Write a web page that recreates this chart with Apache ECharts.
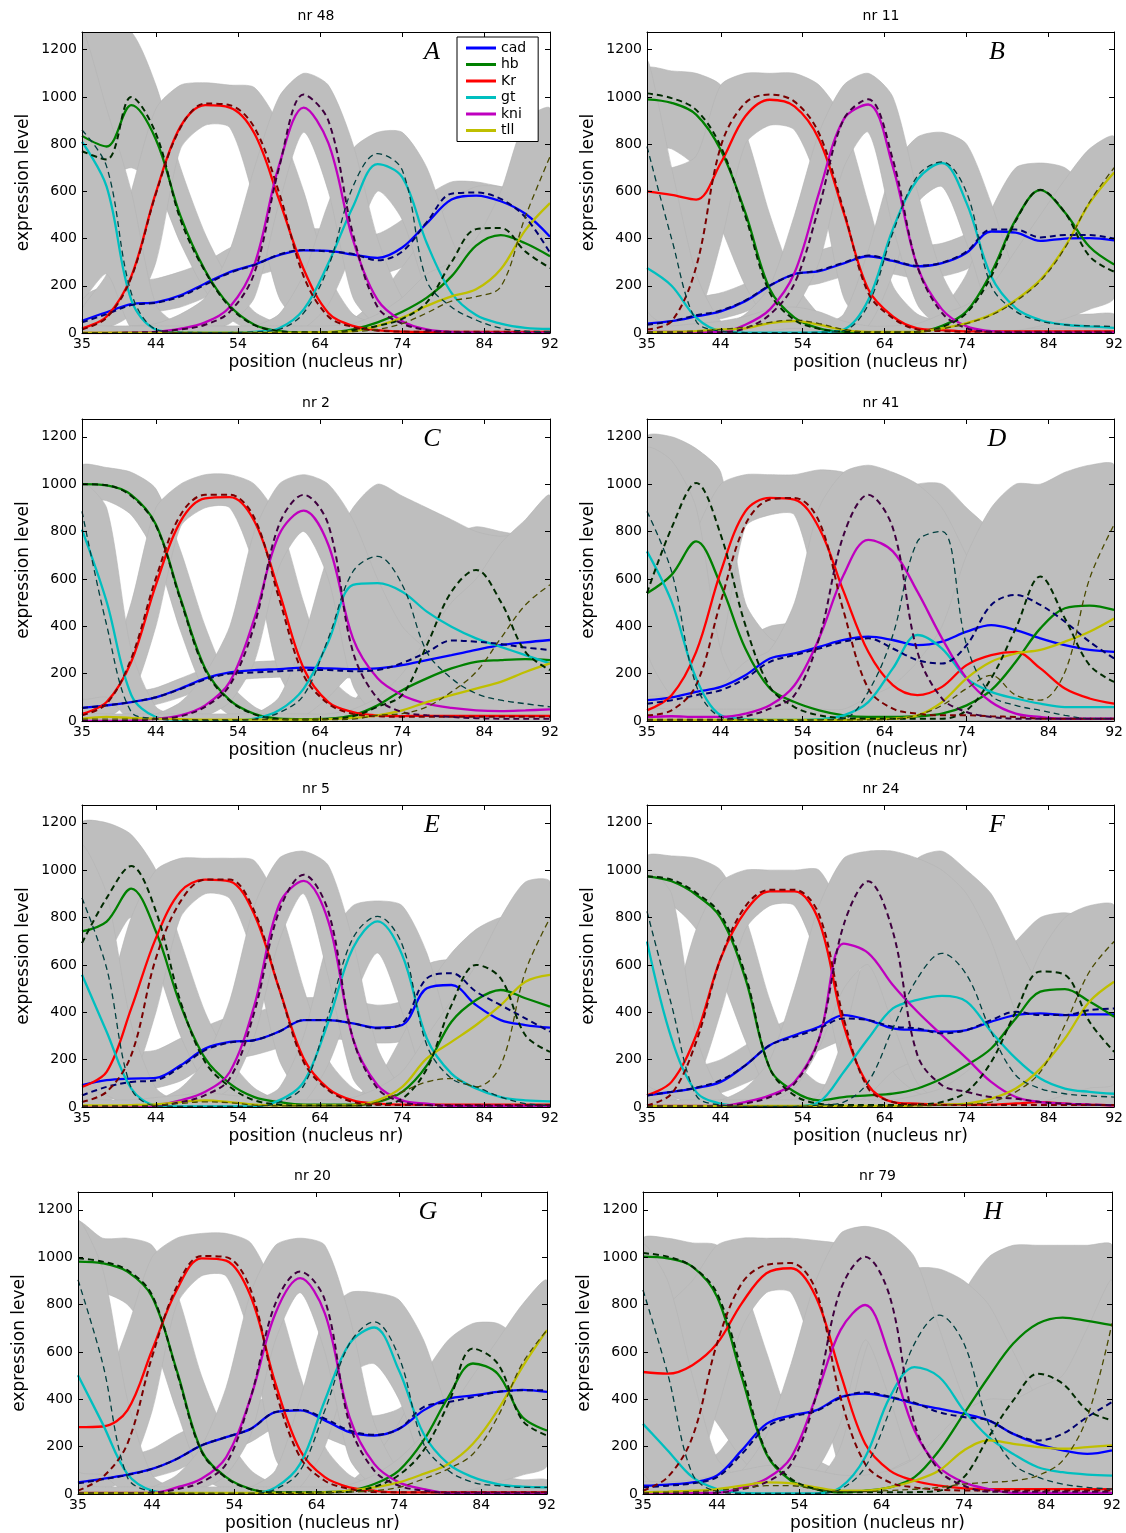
<!DOCTYPE html>
<html><head><meta charset="utf-8">
<script src="https://cdn.jsdelivr.net/npm/echarts@6/dist/echarts.min.js"></script>
<style>html,body{margin:0;padding:0;background:#fff}#c{width:1126px;height:1533px}</style>
</head><body><div id="c"></div>
<script>
const X = [35,38,41,44,47,50,53,56,59,62,65,68,71,74,77,80,83,86,89,92];
const X_TICK_LABELS = [35,44,54,64,74,84,92];
const X_TICKS = [44,54,64,74,84];
const Y_TICK_LABELS = [0,200,400,600,800,1000,1200];
const Y_TICKS = [200,400,600,800,1000,1200];
const GENES = ['cad','hb','Kr','gt','kni','tll'];

// ---- Panel A (nr 48) ----
const A_cad   = [52,88,122,130,160,210,258,290,330,350,348,332,318,362,465,565,582,558,505,408];
const A_cad_m = [45,80,118,128,155,205,255,288,332,352,345,335,308,345,470,590,595,568,490,340];
const A_hb    = [835,790,965,820,495,265,115,35,8,3,3,15,45,90,150,240,370,415,380,325];
const A_hb_m  = [770,735,1000,845,480,260,110,33,8,3,3,12,30,60,130,300,440,445,345,275];
const A_Kr    = [20,70,240,595,875,965,955,845,565,270,85,30,12,6,5,5,5,5,5,5];
const A_Kr_m  = [15,65,235,590,870,972,965,870,595,240,70,25,10,6,5,5,5,5,5,5];
const A_gt    = [810,620,140,15,3,2,2,5,20,100,295,535,715,660,380,170,76,40,22,17];
const A_gt_m  = [860,705,170,15,3,2,2,5,15,85,280,620,760,690,220,110,55,20,8,5];
const A_kni   = [0,0,2,5,18,45,110,290,710,955,805,395,140,50,15,5,2,0,0,0];
const A_kni_m = [0,0,2,5,15,35,90,255,700,1010,900,420,110,40,12,4,1,0,0,0];
const A_tll   = [2,2,2,2,2,2,2,2,2,3,5,8,30,65,115,155,185,270,436,550];
const A_tll_m = [1,1,1,1,1,1,1,1,1,2,3,6,15,40,85,135,154,196,493,747];
const A_cad_lo = [20,50,80,90,110,150,200,240,270,290,290,270,250,280,380,450,450,420,330,250];
const A_cad_hi = [150,200,220,230,260,300,360,400,420,440,440,420,420,480,580,640,640,620,600,550];
const A_hb_lo  = [620,650,700,620,380,180,60,5,0,0,0,0,0,10,40,100,200,250,200,150];
const A_hb_hi  = [1275,1275,1275,1050,700,420,220,90,40,20,30,60,150,280,420,560,620,620,580,560];
const A_Kr_lo  = [0,20,80,300,780,880,870,560,150,30,5,0,0,0,0,0,0,0,0,0];
const A_Kr_hi  = [100,250,600,950,1050,1060,1050,1040,880,600,250,80,40,30,30,30,30,30,30,30];
const A_gt_lo  = [150,250,20,0,0,0,0,0,0,20,120,350,600,480,180,50,10,0,0,0];
const A_gt_hi  = [1275,950,600,120,30,20,20,30,80,250,550,780,850,850,700,400,180,100,80,80];
const A_kni_lo = [0,0,0,0,0,10,40,150,550,850,600,150,30,5,0,0,0,0,0,0];
const A_kni_hi = [20,20,30,40,80,150,350,700,1000,1100,1050,800,400,150,60,30,20,20,20,20];
const A_tll_lo = [0,0,0,0,0,0,0,0,0,0,0,0,0,0,0,0,0,0,0,0];
const A_tll_hi = [30,30,30,30,30,30,30,30,30,30,30,40,80,150,250,300,400,600,900,950];

// ---- Panel B (nr 11) ----
const B_cad   = [40,50,70,92,135,200,250,262,295,325,305,282,296,340,430,425,390,400,402,392];
const B_cad_m = [35,50,75,95,138,202,248,265,298,328,308,285,298,345,438,438,405,415,415,400];
const B_hb    = [990,975,925,775,510,185,65,20,5,3,3,5,30,92,255,480,605,510,365,290];
const B_hb_m  = [1015,995,945,790,495,170,55,18,5,3,3,5,25,85,240,475,607,510,325,260];
const B_Kr    = [600,585,565,720,918,988,960,820,510,185,70,20,12,7,7,7,7,7,7,7];
const B_Kr_m  = [15,50,280,790,975,1010,980,845,520,170,63,15,8,5,5,5,5,5,5,5];
const B_gt    = [275,200,65,8,2,2,2,3,15,140,440,650,720,550,240,105,55,35,28,22];
const B_gt_m  = [790,400,50,8,2,2,2,3,10,120,425,665,725,595,200,92,50,35,30,28];
const B_kni   = [5,5,5,5,35,100,255,595,905,968,705,282,100,28,8,2,2,2,2,2];
const B_kni_m = [3,3,3,3,20,78,210,535,905,990,735,282,85,20,5,2,2,2,2,2];
const B_tll   = [3,5,8,15,20,42,50,35,12,5,5,5,20,42,78,140,225,365,550,680];
const B_tll_m = [3,5,8,15,25,45,55,40,15,5,5,5,18,40,75,135,220,360,555,700];
const B_cad_lo = [20,30,45,60,90,140,190,210,240,260,250,230,240,270,340,340,320,320,320,300];
const B_cad_hi = [100,120,150,170,210,280,330,350,380,400,390,370,380,420,500,500,470,470,480,480];
const B_hb_lo  = [800,780,700,450,200,40,5,0,0,0,0,0,0,20,100,330,480,380,200,150];
const B_hb_hi  = [1120,1110,1100,1050,850,500,220,80,30,20,20,30,100,250,520,700,720,700,600,500];
const B_Kr_lo  = [0,0,50,380,800,880,860,620,150,20,0,0,0,0,0,0,0,0,0,0];
const B_Kr_hi  = [700,700,750,1050,1100,1100,1100,1050,900,550,200,80,50,40,30,30,30,30,30,30];
const B_gt_lo  = [100,20,0,0,0,0,0,0,0,30,250,550,620,380,80,30,10,5,5,5];
const B_gt_hi  = [1150,700,250,50,20,20,20,30,80,350,700,830,850,800,550,250,120,80,80,80];
const B_kni_lo = [0,0,0,0,5,30,100,300,700,850,450,120,20,0,0,0,0,0,0,0];
const B_kni_hi = [20,20,20,30,80,200,500,850,1050,1100,1000,600,250,80,30,20,20,20,20,20];
const B_tll_lo = [0,0,0,0,0,10,20,10,0,0,0,0,0,0,0,10,30,60,100,150];
const B_tll_hi = [30,30,40,50,70,100,110,90,50,30,30,40,80,120,200,350,500,650,780,830];

// ---- Panel C (nr 2) ----
const C_cad   = [55,66,80,100,137,180,205,215,219,225,222,219,222,236,257,278,300,320,332,342];
const C_cad_m = [55,66,80,100,135,175,200,205,210,215,215,210,215,245,290,340,335,325,310,300];
const C_hb    = [1000,995,955,830,518,222,88,30,10,8,10,24,66,130,180,222,250,257,261,257];
const C_hb_m  = [1000,995,950,825,510,215,85,28,8,6,8,20,60,110,320,546,638,504,292,215];
const C_Kr    = [30,80,250,575,843,940,945,843,546,222,80,38,24,21,22,22,22,22,22,22];
const C_Kr_m  = [24,73,264,603,870,955,955,857,518,193,73,30,20,18,18,18,18,18,18,18];
const C_gt    = [808,504,110,17,5,3,3,10,45,137,335,575,582,546,462,398,349,313,278,243];
const C_gt_m  = [885,405,38,10,3,3,3,8,35,109,349,631,695,575,292,180,116,88,73,60];
const C_kni   = [0,0,2,10,24,66,165,433,786,888,744,349,180,109,73,55,45,42,45,49];
const C_kni_m = [0,0,2,8,20,60,151,405,829,955,829,292,95,38,24,17,12,10,10,10];
const C_tll   = [10,17,13,10,8,6,6,6,6,6,8,13,24,45,80,109,137,165,207,243];
const C_tll_m = [8,8,8,8,6,6,6,6,6,6,6,8,24,31,60,123,207,349,490,575];
const C_cad_lo = [40,50,60,70,100,140,170,180,185,190,185,180,150,120,100,100,100,100,100,100];
const C_cad_hi = [90,100,120,140,180,220,240,250,255,260,260,300,400,500,550,600,650,650,650,650];
const C_hb_lo  = [940,930,870,700,380,120,25,0,0,0,0,0,0,0,0,0,0,0,0,0];
const C_hb_hi  = [1080,1070,1050,980,720,400,160,60,20,20,30,80,250,450,650,780,820,800,780,750];
const C_Kr_lo  = [0,10,100,400,820,900,900,650,200,40,5,0,0,0,0,0,0,0,0,0];
const C_Kr_hi  = [80,200,500,900,1000,1040,1040,1000,850,500,200,100,100,100,100,100,100,100,100,100];
const C_gt_lo  = [100,100,0,0,0,0,0,0,0,20,100,200,200,150,100,50,20,0,0,0];
const C_gt_hi  = [1000,900,300,60,20,20,20,30,100,350,700,900,1000,950,900,850,800,780,800,850];
const C_kni_lo = [0,0,0,0,0,20,80,250,650,800,600,150,20,0,0,0,0,0,0,0];
const C_kni_hi = [20,20,20,30,80,200,400,800,1000,1040,1000,850,600,400,300,200,150,150,150,150];
const C_tll_lo = [0,0,0,0,0,0,0,0,0,0,0,0,0,0,0,0,0,0,0,0];
const C_tll_hi = [30,30,30,30,30,30,30,30,30,30,30,50,100,200,350,500,600,750,850,950];

// ---- Panel D (nr 41) ----
const D_cad   = [88,100,123,144,193,264,285,313,342,356,342,320,335,377,405,384,349,320,300,292];
const D_cad_m = [73,88,109,130,180,250,278,306,335,349,306,257,243,320,490,532,490,419,335,264];
const D_hb    = [539,617,758,575,306,137,80,45,24,17,17,20,31,66,130,250,391,476,487,469];
const D_hb_m  = [540,815,1005,786,405,144,59,24,12,10,10,10,10,45,180,391,610,433,236,165];
const D_Kr    = [45,109,292,631,885,942,935,815,546,292,151,109,144,236,278,292,222,137,95,73];
const D_Kr_m  = [24,45,151,504,829,935,942,843,462,137,52,31,24,24,20,17,10,10,10,10];
const D_gt    = [716,504,180,24,8,5,5,8,24,80,222,363,306,180,123,95,73,59,59,59];
const D_gt_m  = [885,631,151,17,5,3,3,5,10,123,363,758,801,320,109,66,45,24,10,10];
const D_kni   = [17,20,17,17,31,66,151,349,617,765,716,546,349,180,80,31,17,10,10,10];
const D_kni_m = [5,5,5,5,20,52,109,349,786,955,815,292,95,38,17,10,10,10,10,10];
const D_tll   = [5,5,5,5,5,5,5,5,5,8,10,24,80,180,250,285,300,335,377,433];
const D_tll_m = [5,5,5,5,5,5,5,5,5,5,8,24,66,137,193,109,88,207,600,829];
const D_cad_lo = [0,0,0,0,0,50,100,100,100,50,0,0,0,0,0,0,0,0,0,0];
const D_cad_hi = [300,300,300,300,350,400,420,500,500,500,500,500,550,650,750,800,800,700,600,550];
const D_hb_lo  = [300,350,400,200,50,10,0,0,0,0,0,0,0,0,0,0,0,0,0,0];
const D_hb_hi  = [1200,1200,1150,1050,500,350,300,150,80,50,50,80,150,300,500,700,850,950,1000,1000];
const D_Kr_lo  = [0,0,50,300,820,870,870,500,100,0,0,0,0,0,0,0,0,0,0,0];
const D_Kr_hi  = [300,500,800,1000,1040,1040,1040,1060,1050,1000,900,700,500,500,500,500,500,400,300,300];
const D_gt_lo  = [300,100,0,0,0,0,0,0,0,0,0,0,0,0,0,0,0,0,0,0];
const D_gt_hi  = [1150,1100,900,300,100,50,100,200,400,700,950,1000,1000,900,800,600,500,400,400,400];
const D_kni_lo = [0,0,0,0,0,0,0,0,0,0,0,0,0,0,0,0,0,0,0,0];
const D_kni_hi = [100,100,100,150,250,300,500,900,1050,1080,1050,1000,900,700,500,300,200,150,150,150];
const D_tll_lo = [0,0,0,0,0,0,0,0,0,0,0,0,0,0,0,0,0,0,0,0];
const D_tll_hi = [50,50,50,50,50,50,50,50,50,100,150,250,400,700,900,1000,1000,1050,1080,1080];

// ---- Panel E (nr 5) ----
const E_cad   = [92,113,120,123,176,247,275,282,318,367,367,353,335,346,501,515,430,367,346,335];
const E_cad_m = [49,85,106,113,169,240,272,282,318,367,367,353,332,353,543,565,487,430,374,318];
const E_hb    = [741,783,922,741,430,205,99,42,21,10,10,10,21,64,176,360,452,494,459,424];
const E_hb_m  = [692,882,1017,826,445,190,85,28,10,6,6,6,10,35,162,430,600,543,303,233];
const E_Kr    = [85,148,416,713,910,960,953,812,501,205,78,28,14,10,10,10,10,10,10,10];
const E_Kr_m  = [21,64,219,628,868,960,960,826,501,190,71,21,10,8,8,8,8,8,8,8];
const E_gt    = [558,318,78,7,3,3,3,3,28,106,360,671,784,642,289,141,78,42,28,24];
const E_gt_m  = [882,586,78,5,3,3,3,3,20,90,388,713,805,685,261,120,85,42,14,7];
const E_kni   = [2,2,2,7,28,64,148,430,854,955,784,289,92,28,14,5,5,5,5,5];
const E_kni_m = [2,2,2,5,20,50,120,402,826,981,826,289,78,21,8,5,5,5,5,5];
const E_tll   = [7,7,8,11,21,28,21,10,7,7,7,7,28,85,205,275,346,430,529,558];
const E_tll_m = [5,5,5,7,15,22,18,8,5,5,5,5,21,64,106,120,85,176,572,798];
const E_cad_lo = [40,60,70,80,110,170,200,220,250,290,290,280,270,280,380,400,330,280,260,250];
const E_cad_hi = [200,220,230,240,290,340,380,400,430,460,460,450,430,450,600,620,560,480,450,430];
const E_hb_lo  = [650,650,800,600,300,100,30,5,0,0,0,0,0,10,50,200,350,350,200,150];
const E_hb_hi  = [1200,1200,1150,1000,700,400,200,80,30,20,20,40,120,300,500,650,750,800,800,750];
const E_Kr_lo  = [0,20,100,400,800,900,880,620,200,40,5,0,0,0,0,0,0,0,0,0];
const E_Kr_hi  = [250,450,800,1000,1050,1050,1050,1040,850,500,200,80,40,30,30,30,30,30,30,30];
const E_gt_lo  = [100,50,0,0,0,0,0,0,0,20,180,450,650,400,100,30,5,0,0,0];
const E_gt_hi  = [1100,900,350,80,20,20,20,30,80,300,700,850,870,850,650,300,150,100,80,80];
const E_kni_lo = [0,0,0,0,5,20,80,300,700,900,550,120,20,0,0,0,0,0,0,0];
const E_kni_hi = [20,20,20,30,80,200,450,850,1050,1080,1020,700,250,80,30,20,20,20,20,20];
const E_tll_lo = [0,0,0,0,0,0,0,0,0,0,0,0,0,0,0,0,0,0,0,0];
const E_tll_hi = [30,30,30,40,50,60,50,40,30,30,30,40,80,150,300,450,600,800,950,950];

// ---- Panel F (nr 24) ----
const F_cad   = [49,64,80,106,176,261,303,339,388,367,332,325,318,325,360,388,395,388,391,391];
const F_cad_m = [49,64,82,113,176,261,296,332,374,367,339,332,311,325,367,402,388,388,409,416];
const F_hb    = [974,953,896,798,543,162,64,28,42,49,56,78,120,176,247,374,487,498,445,381];
const F_hb_m  = [974,960,904,812,558,162,49,14,8,8,8,10,21,64,190,402,572,558,360,233];
const F_Kr    = [49,106,303,628,826,910,910,784,346,92,21,14,10,10,10,15,21,14,10,7];
const F_Kr_m  = [7,56,275,628,847,917,917,812,374,78,21,10,8,8,8,8,8,8,8,8];
const F_gt    = [699,289,64,14,5,3,3,21,148,289,416,452,469,445,318,205,120,78,64,56];
const F_gt_m  = [826,430,49,8,3,3,3,8,21,106,332,543,649,558,318,134,78,56,47,42];
const F_kni   = [5,5,5,5,21,49,106,289,690,650,515,402,303,205,106,42,21,14,10,7];
const F_kni_m = [3,3,3,5,15,42,99,289,769,953,741,219,92,64,42,35,21,14,10,7];
const F_tll   = [5,5,5,5,5,5,5,5,5,5,5,7,10,14,35,78,162,289,445,529];
const F_tll_m = [3,3,3,3,3,3,3,3,3,3,3,5,8,12,21,64,148,346,572,699];
const F_cad_lo = [30,40,50,60,100,150,200,240,280,250,220,200,200,200,220,250,250,250,250,250];
const F_cad_hi = [150,160,170,200,260,330,380,420,450,450,430,430,430,430,450,480,480,480,480,480];
const F_hb_lo  = [850,850,750,550,280,50,10,0,0,0,0,0,0,0,20,100,200,250,200,150];
const F_hb_hi  = [1060,1060,1050,1000,800,450,200,100,100,150,200,300,400,500,600,700,800,820,800,800];
const F_Kr_lo  = [0,20,100,400,750,850,850,600,150,20,0,0,0,0,0,0,0,0,0,0];
const F_Kr_hi  = [200,400,750,950,1000,1000,1000,1000,800,450,150,60,40,30,30,30,30,30,30,30];
const F_gt_lo  = [100,50,0,0,0,0,0,0,0,50,150,200,250,200,100,50,20,10,10,10];
const F_gt_hi  = [1000,900,300,60,20,20,20,50,300,700,900,1050,1080,1000,900,700,500,350,250,250];
const F_kni_lo = [0,0,0,0,0,20,80,250,500,600,350,100,20,0,0,0,0,0,0,0];
const F_kni_hi = [20,20,20,30,80,200,500,850,1050,1080,1080,1050,1000,900,700,400,200,100,50,50];
const F_tll_lo = [0,0,0,0,0,0,0,0,0,0,0,0,0,0,0,0,20,50,80,100];
const F_tll_hi = [30,30,30,30,30,30,30,30,30,30,30,50,80,150,250,400,650,800,850,850];

// ---- Panel G (nr 20) ----
const G_cad   = [49,64,82,106,148,205,240,275,346,353,311,261,247,275,353,402,416,431,440,431];
const G_cad_m = [45,62,80,106,148,205,240,275,346,355,318,268,250,275,367,388,409,431,438,438];
const G_hb    = [981,974,939,833,522,184,71,21,7,7,8,14,42,99,226,409,551,508,325,268];
const G_hb_m  = [995,981,945,840,515,180,68,20,7,7,7,10,30,80,184,381,614,551,311,247];
const G_Kr    = [282,285,353,607,861,995,985,833,466,184,71,28,14,7,7,7,7,7,7,7];
const G_Kr_m  = [14,71,212,579,875,1005,1000,861,438,155,56,21,8,7,7,7,7,7,7,7];
const G_gt    = [501,296,85,14,3,3,3,3,28,127,395,635,703,522,254,127,71,42,31,28];
const G_gt_m  = [904,551,71,10,3,3,3,3,20,99,353,635,727,579,212,99,49,35,28,28];
const G_kni   = [5,5,5,5,28,64,155,409,763,911,763,325,127,49,21,5,5,5,5,5];
const G_kni_m = [3,3,3,5,20,50,127,409,805,939,819,296,99,35,14,5,5,5,5,5];
const G_tll   = [5,5,5,5,5,5,5,5,5,5,7,14,28,49,85,127,212,353,536,692];
const G_tll_m = [3,3,3,3,3,3,3,3,3,3,5,8,14,28,64,106,169,325,551,692];
const G_cad_lo = [20,30,50,70,100,150,180,220,280,280,240,200,190,210,300,330,350,370,370,350];
const G_cad_hi = [120,140,160,190,250,300,340,380,420,420,400,350,330,360,450,480,500,510,510,510];
const G_hb_lo  = [850,850,800,650,350,80,15,0,0,0,0,0,0,10,50,250,400,350,200,150];
const G_hb_hi  = [1150,1080,1080,1050,850,500,250,100,40,20,20,50,150,300,500,650,720,720,650,600];
const G_Kr_lo  = [0,10,80,350,800,920,920,650,150,30,5,0,0,0,0,0,0,0,0,0];
const G_Kr_hi  = [400,450,700,1000,1080,1100,1100,1060,850,500,200,80,40,30,30,30,30,30,30,30];
const G_gt_lo  = [100,80,0,0,0,0,0,0,0,30,200,500,550,400,120,30,10,0,0,0];
const G_gt_hi  = [1150,950,400,80,20,20,20,30,100,400,750,850,850,820,650,350,150,80,60,60];
const G_kni_lo = [0,0,0,0,5,20,80,250,650,850,600,150,30,5,0,0,0,0,0,0];
const G_kni_hi = [20,20,20,30,80,200,450,850,1050,1080,1050,750,300,100,40,20,20,20,20,20];
const G_tll_lo = [0,0,0,0,0,0,0,0,0,0,0,0,0,0,0,0,20,50,80,120];
const G_tll_hi = [30,30,30,30,30,30,30,30,30,30,30,40,80,150,250,350,500,650,800,900];

// ---- Panel H (nr 79) ----
const H_cad   = [35,40,49,78,184,296,332,353,409,424,409,381,360,339,311,254,212,184,169,184];
const H_cad_m = [28,35,45,71,169,282,325,350,405,430,410,385,345,325,311,254,226,254,325,388];
const H_hb    = [1002,995,960,833,494,169,56,21,7,14,28,71,184,339,494,635,720,745,731,713];
const H_hb_m  = [1017,1002,960,847,522,176,64,21,7,7,7,8,14,71,240,395,508,466,353,311];
const H_Kr    = [515,508,544,635,805,932,953,833,508,212,99,56,35,24,21,21,21,21,21,21];
const H_Kr_m  = [14,71,240,635,889,967,975,861,409,127,49,28,18,15,15,15,15,15,15,15];
const H_gt    = [296,184,71,21,5,3,3,3,28,155,409,536,494,353,240,169,113,92,82,78];
const H_gt_m  = [861,508,85,10,3,3,3,3,20,113,353,635,755,635,296,127,71,42,28,21];
const H_kni   = [5,5,5,5,28,64,155,409,692,798,579,268,113,49,21,5,5,5,5,5];
const H_kni_m = [3,3,3,5,20,50,127,409,861,1002,833,296,99,35,10,10,10,10,10,10];
const H_tll   = [7,10,14,21,35,49,45,28,14,14,28,56,99,184,226,212,198,191,198,205];
const H_tll_m = [5,8,10,15,25,35,35,20,10,10,15,20,28,42,49,56,78,141,325,720];
const H_cad_lo = [10,20,30,40,100,200,250,280,300,300,300,280,260,240,200,150,120,100,100,120];
const H_cad_hi = [100,110,120,170,300,400,430,450,500,520,500,480,460,440,420,380,350,350,400,450];
const H_hb_lo  = [800,650,450,300,150,40,5,0,0,0,0,0,0,10,50,100,150,150,150,150];
const H_hb_hi  = [1080,1080,1060,1050,900,600,300,150,100,100,200,350,600,850,1000,1050,1050,1050,1050,1050];
const H_Kr_lo  = [0,0,50,350,700,850,850,550,100,10,0,0,0,0,0,0,0,0,0,0];
const H_Kr_hi  = [700,800,900,1050,1080,1080,1080,1070,1050,900,600,300,200,150,100,100,100,100,100,100];
const H_gt_lo  = [100,0,0,0,0,0,0,0,0,20,100,150,150,100,50,20,10,10,10,10];
const H_gt_hi  = [1050,900,500,150,60,30,30,50,200,600,850,950,950,900,800,600,400,300,250,250];
const H_kni_lo = [0,0,0,0,0,20,80,100,300,650,400,100,20,0,0,0,0,0,0,0];
const H_kni_hi = [20,20,20,50,100,250,550,900,1100,1130,1100,1000,700,400,200,100,50,50,50,50];
const H_tll_lo = [0,0,0,0,0,0,0,0,0,0,0,0,0,0,0,0,0,0,0,0];
const H_tll_hi = [50,50,60,80,100,120,120,100,80,80,100,150,250,350,400,400,450,500,700,900];

const PANELS = [
  {letter:'A', title:'nr 48', box:[82,32,468,301],
   solid:[A_cad,A_hb,A_Kr,A_gt,A_kni,A_tll], mean:[A_cad_m,A_hb_m,A_Kr_m,A_gt_m,A_kni_m,A_tll_m],
   lo:[A_cad_lo,A_hb_lo,A_Kr_lo,A_gt_lo,A_kni_lo,A_tll_lo], hi:[A_cad_hi,A_hb_hi,A_Kr_hi,A_gt_hi,A_kni_hi,A_tll_hi]},
  {letter:'B', title:'nr 11', box:[647,32,468,301],
   solid:[B_cad,B_hb,B_Kr,B_gt,B_kni,B_tll], mean:[B_cad_m,B_hb_m,B_Kr_m,B_gt_m,B_kni_m,B_tll_m],
   lo:[B_cad_lo,B_hb_lo,B_Kr_lo,B_gt_lo,B_kni_lo,B_tll_lo], hi:[B_cad_hi,B_hb_hi,B_Kr_hi,B_gt_hi,B_kni_hi,B_tll_hi]},
  {letter:'C', title:'nr 2', box:[82,419,468,302],
   solid:[C_cad,C_hb,C_Kr,C_gt,C_kni,C_tll], mean:[C_cad_m,C_hb_m,C_Kr_m,C_gt_m,C_kni_m,C_tll_m],
   lo:[C_cad_lo,C_hb_lo,C_Kr_lo,C_gt_lo,C_kni_lo,C_tll_lo], hi:[C_cad_hi,C_hb_hi,C_Kr_hi,C_gt_hi,C_kni_hi,C_tll_hi]},
  {letter:'D', title:'nr 41', box:[647,419,468,302],
   solid:[D_cad,D_hb,D_Kr,D_gt,D_kni,D_tll], mean:[D_cad_m,D_hb_m,D_Kr_m,D_gt_m,D_kni_m,D_tll_m],
   lo:[D_cad_lo,D_hb_lo,D_Kr_lo,D_gt_lo,D_kni_lo,D_tll_lo], hi:[D_cad_hi,D_hb_hi,D_Kr_hi,D_gt_hi,D_kni_hi,D_tll_hi]},
  {letter:'E', title:'nr 5', box:[82,805,468,302],
   solid:[E_cad,E_hb,E_Kr,E_gt,E_kni,E_tll], mean:[E_cad_m,E_hb_m,E_Kr_m,E_gt_m,E_kni_m,E_tll_m],
   lo:[E_cad_lo,E_hb_lo,E_Kr_lo,E_gt_lo,E_kni_lo,E_tll_lo], hi:[E_cad_hi,E_hb_hi,E_Kr_hi,E_gt_hi,E_kni_hi,E_tll_hi]},
  {letter:'F', title:'nr 24', box:[647,805,468,302],
   solid:[F_cad,F_hb,F_Kr,F_gt,F_kni,F_tll], mean:[F_cad_m,F_hb_m,F_Kr_m,F_gt_m,F_kni_m,F_tll_m],
   lo:[F_cad_lo,F_hb_lo,F_Kr_lo,F_gt_lo,F_kni_lo,F_tll_lo], hi:[F_cad_hi,F_hb_hi,F_Kr_hi,F_gt_hi,F_kni_hi,F_tll_hi]},
  {letter:'G', title:'nr 20', box:[78,1192,469,303],
   solid:[G_cad,G_hb,G_Kr,G_gt,G_kni,G_tll], mean:[G_cad_m,G_hb_m,G_Kr_m,G_gt_m,G_kni_m,G_tll_m],
   lo:[G_cad_lo,G_hb_lo,G_Kr_lo,G_gt_lo,G_kni_lo,G_tll_lo], hi:[G_cad_hi,G_hb_hi,G_Kr_hi,G_gt_hi,G_kni_hi,G_tll_hi]},
  {letter:'H', title:'nr 79', box:[643,1192,469,303],
   solid:[H_cad,H_hb,H_Kr,H_gt,H_kni,H_tll], mean:[H_cad_m,H_hb_m,H_Kr_m,H_gt_m,H_kni_m,H_tll_m],
   lo:[H_cad_lo,H_hb_lo,H_Kr_lo,H_gt_lo,H_kni_lo,H_tll_lo], hi:[H_cad_hi,H_hb_hi,H_Kr_hi,H_gt_hi,H_kni_hi,H_tll_hi]}
];

const SOLID_COLORS = ['#0000ff','#008000','#ff0000','#00bfbf','#bf00bf','#bfbf00'];
const MEAN_COLORS  = ['#00006e','#002a00','#7a0000','#003f3f','#3f003f','#4a4a00'];
const MEAN_WIDTHS  = [2,2,2,1.3,2,1.3];
const FONT = 'DejaVu Sans';

const grid = [], xAxis = [], yAxis = [], series = [], graphic = [];
const lineStyleAxis = {color:'#000', width:1};
const plain = v => String(v);
PANELS.forEach((p, i) => {
  const [l, t, w, h] = p.box;
  grid.push({left:l, top:t, width:w, height:h, show:false});
  const xBase = {gridIndex:i, type:'value', min:35, max:92, z:10,
    axisLine:{show:true, onZero:false, lineStyle:lineStyleAxis},
    axisTick:{show:true, inside:true, length:5, customValues:X_TICKS, lineStyle:lineStyleAxis},
    splitLine:{show:false}};
  xAxis.push(Object.assign({}, xBase, {position:'bottom',
    name:'position (nucleus nr)', nameLocation:'middle', nameGap:21,
    nameTextStyle:{fontFamily:FONT, fontSize:17, color:'#000'},
    axisLabel:{show:true, customValues:X_TICK_LABELS, formatter:plain, margin:4, fontFamily:FONT, fontSize:14, color:'#000'}}));
  xAxis.push(Object.assign({}, xBase, {position:'top', axisLabel:{show:false}}));
  const yBase = {gridIndex:i, type:'value', min:0, max:1275, z:10,
    axisLine:{show:true, onZero:false, lineStyle:lineStyleAxis},
    axisTick:{show:true, inside:true, length:5, customValues:Y_TICKS, lineStyle:lineStyleAxis},
    splitLine:{show:false}};
  yAxis.push(Object.assign({}, yBase, {position:'left',
    name:'expression level', nameLocation:'middle', nameGap:50,
    nameTextStyle:{fontFamily:FONT, fontSize:17, color:'#000'},
    axisLabel:{show:true, customValues:Y_TICK_LABELS, formatter:plain, margin:5, fontFamily:FONT, fontSize:14, color:'#000'}}));
  yAxis.push(Object.assign({}, yBase, {position:'right', axisLabel:{show:false}}));

  // gray band covering the individual embryo traces of each gene
  series.push({
    type:'custom', name:'traces', xAxisIndex:2*i, yAxisIndex:2*i, silent:true, clip:true, z:1,
    data: p.lo.map(() => [35, 0]),
    renderItem: (params, api) => {
      const k = params.dataIndex, lo = p.lo[k], hi = p.hi[k];
      const pts = [];
      for (let j = 0; j < X.length; j++) pts.push(api.coord([X[j], hi[j]]));
      for (let j = X.length - 1; j >= 0; j--) pts.push(api.coord([X[j], lo[j]]));
      return {type:'polygon', shape:{points:pts, smooth:0.25}, style:{fill:'#bebebe', stroke:'#b4b4b4', lineWidth:0.6}};
    }
  });
  GENES.forEach((g, k) => {
    series.push({type:'line', name:g, xAxisIndex:2*i, yAxisIndex:2*i, showSymbol:false, symbol:'none',
      smooth:0.35, silent:true, z:3, color:SOLID_COLORS[k],
      lineStyle:{color:SOLID_COLORS[k], width:2.3},
      data: X.map((x, j) => [x, p.solid[k][j]])});
  });
  GENES.forEach((g, k) => {
    series.push({type:'line', name:g + ' mean', xAxisIndex:2*i, yAxisIndex:2*i, showSymbol:false, symbol:'none',
      smooth:0.35, silent:true, z:4, color:MEAN_COLORS[k],
      lineStyle:{color:MEAN_COLORS[k], width:MEAN_WIDTHS[k], type:[6,4]},
      data: X.map((x, j) => [x, p.mean[k][j]])});
  });
  graphic.push({type:'text', x:l + w/2, y:t - 16, z:20,
    style:{text:p.title, font:'14px "DejaVu Sans"', fill:'#000', align:'center', verticalAlign:'middle', textAlign:'center', textVerticalAlign:'middle'}});
  graphic.push({type:'text', x:l + 350, y:t + 20, z:20,
    style:{text:p.letter, font:'italic 26px "Liberation Serif"', fill:'#000', align:'center', verticalAlign:'middle', textAlign:'center', textVerticalAlign:'middle'}});
});

const chart = echarts.init(document.getElementById('c'), null, {renderer:'canvas'});
chart.setOption({
  animation:false,
  backgroundColor:'#fff',
  grid, xAxis, yAxis, series, graphic,
  legend:{data:GENES, left:457, top:37, orient:'vertical', icon:'rect', itemWidth:30, itemHeight:3,
    itemGap:2.5, padding:[4,12,4,9], borderColor:'#000', borderWidth:1, backgroundColor:'#fff',
    selectedMode:false, z:20,
    textStyle:{fontFamily:FONT, fontSize:14, color:'#000', width:26}}
});
</script></body></html>
